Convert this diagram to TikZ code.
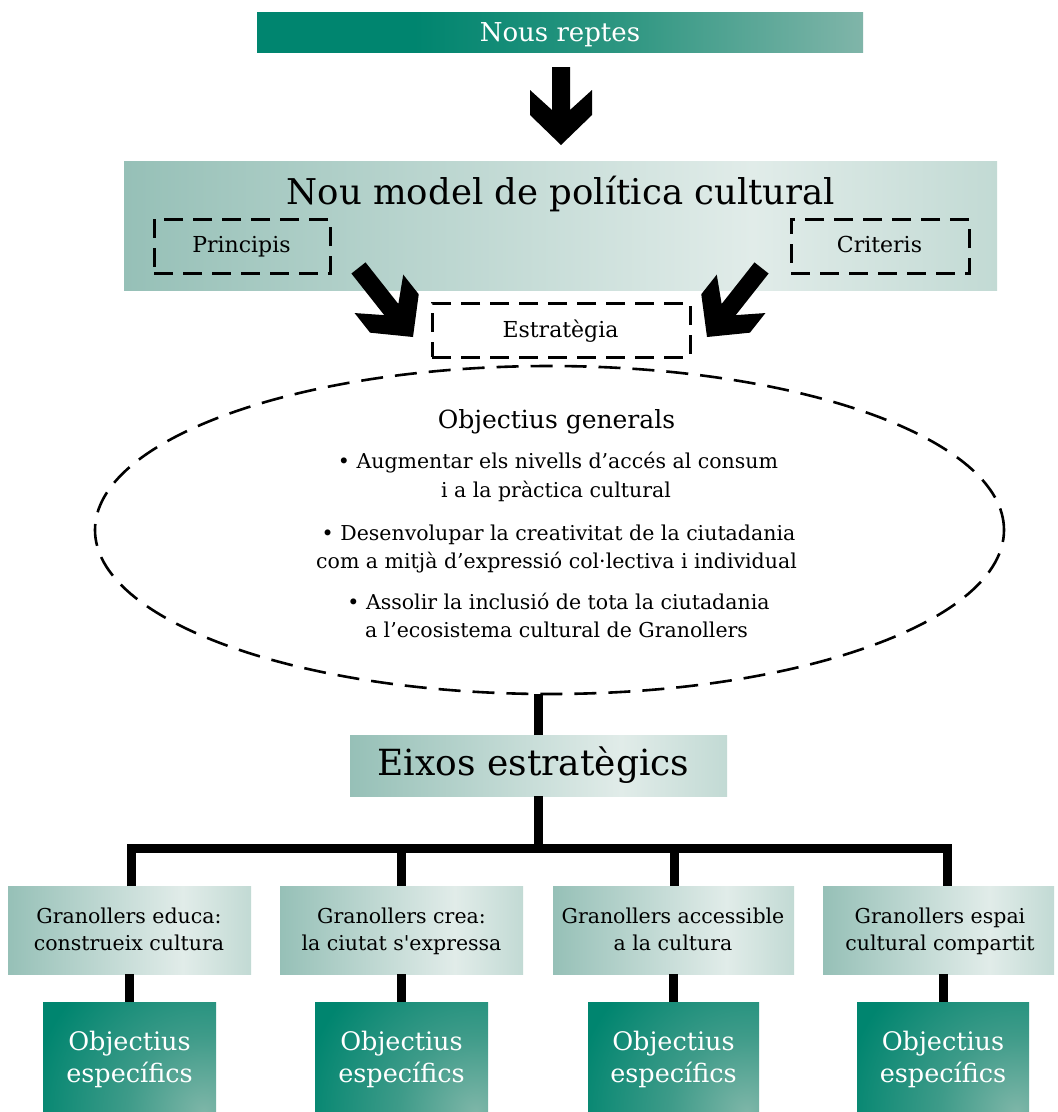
\documentclass[tikz,border=0pt]{standalone}
\usepackage{fontspec}
\setmainfont{DejaVu Serif}[Ligatures=TeXOff]
\usetikzlibrary{shapes.geometric}
\definecolor{tealdark}{RGB}{0,133,111}
\definecolor{tealmid}{RGB}{45,150,129}
\definecolor{teallight}{RGB}{128,181,169}
\definecolor{objlight}{RGB}{126,182,168}
\definecolor{objmid}{RGB}{62,155,137}
\definecolor{lightA}{RGB}{150,192,183}
\definecolor{lightB}{RGB}{225,236,233}
\definecolor{lightC}{RGB}{194,218,212}
\pgfdeclarehorizontalshading{barshade}{100bp}{color(0bp)=(tealdark); color(25bp)=(tealdark); color(38bp)=(tealdark); color(55bp)=(tealmid); color(75bp)=(teallight); color(100bp)=(teallight)}
\pgfdeclarehorizontalshading{lightshade}{100bp}{color(0bp)=(lightA); color(25bp)=(lightA); color(61bp)=(lightB); color(75bp)=(lightC); color(100bp)=(lightC)}
\pgfdeclareradialshading{objrad}{\pgfpointorigin}{color(0bp)=(objlight); color(11bp)=(objmid); color(25bp)=(tealdark); color(50bp)=(tealdark)}
\newcommand{\fsz}[1]{\fontsize{#1}{#1}\selectfont}
\newcommand{\bigarrow}[3]{%
  \fill[black, shift={(#1)}, rotate=#2] (0,0) -- (-31,-30) -- (-31,-55) -- (-9,-35) -- (-9,-#3) -- (9,-#3) -- (9,-35) -- (31,-55) -- (31,-30) -- cycle;}
\tikzset{
  boxbase/.style={inner sep=0pt, outer sep=0pt, draw=none},
  lightbox/.style={boxbase, shade, shading=lightshade},
  darkbar/.style={boxbase, shade, shading=barshade},
  objbox/.style={boxbase, fill=tealdark},
  dashbox/.style={draw=black, line width=3pt, dash pattern=on 19pt off 10pt, inner sep=0pt, outer sep=0pt},
  conn/.style={draw=black, line width=9pt, line join=miter},
  lbl/.style={anchor=base, inner sep=0pt, outer sep=0pt, text=black},
  wlbl/.style={lbl, text=white},
}
\begin{document}
\begin{tikzpicture}[x=1pt,y=-1pt]
\fill[white] (0,0) rectangle (1058,1112);
\useasboundingbox (0,0) rectangle (1058,1112);

% top bar
\node[darkbar, minimum width=606pt, minimum height=40pt] (reptesbox) at (560,32) {};
\node[wlbl, font=\fsz{26}] (reptes) at (560,41) {Nous reptes};

% down arrow
\coordinate (tipD) at (561,145);
\bigarrow{tipD}{0}{78}

% model box
\node[lightbox, minimum width=873pt, minimum height=129pt] (model) at (560.5,225.5) {};
\node[lbl, font=\fsz{35.5}] (title) at (561,204) {Nou model de política cultural};
\node[dashbox, minimum width=176pt, minimum height=54pt] (princbox) at (242,246) {};
\node[lbl, font=\fsz{22}] (princ) at (241.5,252) {Principis};
\node[dashbox, minimum width=178pt, minimum height=54pt] (critbox) at (880,246) {};
\node[lbl, font=\fsz{22}] (crit) at (879.5,252) {Criteris};

% strategy
\node[dashbox, fill=white, minimum width=258pt, minimum height=54pt] (stratbox) at (561,330) {};
\node[lbl, font=\fsz{22}] (strat) at (560.5,337) {Estratègia};
\coordinate (tipL) at (413,337);
\coordinate (tipR) at (707,337);
\bigarrow{tipL}{38.3}{88}
\bigarrow{tipR}{-38.3}{88}

% ellipse
\node[ellipse, draw=black, line width=2.6pt, dash pattern=on 22pt off 12pt, minimum width=909pt, minimum height=328pt, inner sep=0pt, outer sep=0pt] (ell) at (549.5,530) {};
\node[lbl, font=\fsz{25}] (og) at (556.5,428) {Objectius generals};
\node[lbl, font=\fsz{20.5}] (ogA1) at (558,468) {• Augmentar els nivells d’accés al consum};
\node[lbl, font=\fsz{20.5}] (ogA2) at (556,497) {i a la pràctica cultural};
\node[lbl, font=\fsz{20.5}] (ogB1) at (558.5,540) {• Desenvolupar la creativitat de la ciutadania};
\node[lbl, font=\fsz{20.5}] (ogB2) at (556.5,568) {com a mitjà d’expressió col·lectiva i individual};
\node[lbl, font=\fsz{20.5}] (ogC1) at (558.5,609) {• Assolir la inclusió de tota la ciutadania};
\node[lbl, font=\fsz{20.5}] (ogC2) at (556.5,637) {a l’ecosistema cultural de Granollers};

% eixos
\node[lightbox, minimum width=377pt, minimum height=61pt] (eixos) at (538.5,765.5) {};
\node[lbl, font=\fsz{36}] (eixost) at (533.5,775) {Eixos estratègics};

% granollers boxes
\node[lightbox, minimum width=243pt, minimum height=88pt] (g1) at (129.5,930) {};
\node[lightbox, minimum width=243pt, minimum height=88pt] (g2) at (401.5,930) {};
\node[lightbox, minimum width=241pt, minimum height=88pt] (g3) at (673.5,930) {};
\node[lightbox, minimum width=231pt, minimum height=88pt] (g4) at (938.5,930) {};
\node[lbl, font=\fsz{20.5}] (g1a) at (129,923) {Granollers educa:};
\node[lbl, font=\fsz{20.5}] (g1b) at (129,950) {construeix cultura};
\node[lbl, font=\fsz{20.5}] (g2a) at (401.5,923) {Granollers crea:};
\node[lbl, font=\fsz{20.5}] (g2b) at (401.5,950) {la ciutat s'expressa};
\node[lbl, font=\fsz{20.5}] (g3a) at (673,923) {Granollers accessible};
\node[lbl, font=\fsz{20.5}] (g3b) at (673,950) {a la cultura};
\node[lbl, font=\fsz{20.5}] (g4a) at (940,923) {Granollers espai};
\node[lbl, font=\fsz{20.5}] (g4b) at (940,950) {cultural compartit};

% objectius boxes
\node[objbox, minimum width=173pt, minimum height=110pt] (o1) at (129.5,1057) {};
\node[objbox, minimum width=173pt, minimum height=110pt] (o2) at (401.5,1057) {};
\node[objbox, minimum width=171pt, minimum height=110pt] (o3) at (673.5,1057) {};
\node[objbox, minimum width=172pt, minimum height=110pt] (o4) at (943,1057) {};
\foreach \b in {o1,o2,o3,o4}{
  \begin{scope}
    \clip (\b.south west) rectangle (\b.north east);
    \shade[shading=objrad] ([xshift=-12pt]\b.south east) circle (175);
  \end{scope}
}
\node[wlbl, font=\fsz{25.5}] (o1a) at (129.5,1050) {Objectius};
\node[wlbl, font=\fsz{25.5}] (o1b) at (129.5,1082) {específics};
\node[wlbl, font=\fsz{25.5}] (o2a) at (401.5,1050) {Objectius};
\node[wlbl, font=\fsz{25.5}] (o2b) at (401.5,1082) {específics};
\node[wlbl, font=\fsz{25.5}] (o3a) at (673.5,1050) {Objectius};
\node[wlbl, font=\fsz{25.5}] (o3b) at (673.5,1082) {específics};
\node[wlbl, font=\fsz{25.5}] (o4a) at (943,1050) {Objectius};
\node[wlbl, font=\fsz{25.5}] (o4b) at (943,1082) {específics};

% connectors
\coordinate (d1) at (131,848);
\coordinate (d2) at (401,848);
\coordinate (d3) at (674,848);
\coordinate (d4) at (947,848);
\draw[conn] (eixos.north) -- (eixos.north |- ell.south);
\draw[conn] (eixos.south) -- (eixos.south |- d2);
\draw[conn] (g1.north -| d1) -- (d1) -- (d4) -- (g4.north -| d4);
\draw[conn] (d2) -- (g2.north -| d2);
\draw[conn] (d3) -- (g3.north -| d3);
\draw[conn] (g1.south) -- (o1.north);
\draw[conn] (g2.south) -- (o2.north);
\draw[conn] (g3.south) -- (o3.north);
\draw[conn] (g4.south -| o4.north) -- (o4.north);
\end{tikzpicture}
\end{document}
